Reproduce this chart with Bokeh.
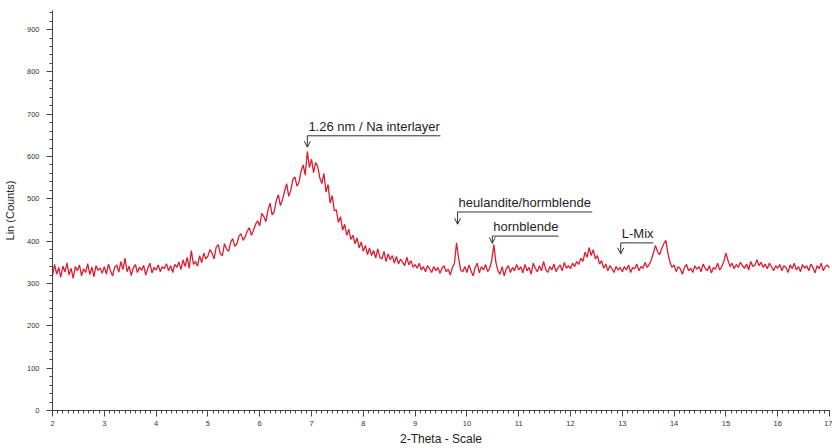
import numpy as np
from bokeh.plotting import figure
from bokeh.models import Range1d, Arrow, OpenHead, FixedTicker, ColumnDataSource
from bokeh.core.properties import value
from bokeh.embed import file_html
from bokeh.resources import INLINE

# ---- data, 2-theta step 0.04 from 2.00 to 17.00 ----
counts = [
    # 2.00 - 2.96
    318, 345, 322, 338, 315, 341, 327, 349, 320, 336, 312, 340, 330, 344, 318, 335, 326, 347, 321, 339, 316, 342, 331, 337, 324,
    # 3.00 - 3.96
    340, 322, 346, 330, 318, 338, 344, 327, 352, 333, 360, 328, 341, 319, 337, 345, 326, 339, 331, 343, 320, 336, 348, 325, 338,
    # 4.00 - 4.96
    332, 344, 328, 340, 335, 347, 330, 342, 326, 345, 338, 351, 333, 356, 340, 362, 336, 378, 345, 352, 341, 366, 349, 372, 358,
    # 5.00 - 5.96
    365, 380, 372, 358, 386, 392, 370, 366, 394, 382, 376, 398, 406, 388, 394, 412, 418, 402, 410, 424, 432, 414, 426, 440, 448,
    # 6.00 - 6.96
    436, 466, 458, 446, 474, 490, 462, 470, 496, 510, 484, 498, 518, 536, 506, 520, 546, 552, 530, 540, 566, 580, 556, 612, 574,
    # 7.00 - 7.96
    594, 562, 586, 576, 550, 536, 560, 516, 534, 490, 508, 472, 474, 444, 458, 426, 440, 414, 428, 404, 414, 394, 408, 384, 398,
    # 8.00 - 8.96
    376, 390, 368, 384, 366, 378, 360, 382, 362, 358, 376, 352, 370, 356, 366, 348, 364, 346, 358, 350, 342, 362, 344, 354, 338,
    # 9.00 - 9.96
    345, 336, 348, 332, 340, 328, 342, 335, 326, 340, 330, 338, 324, 336, 342, 328, 334, 320, 338, 348, 396, 360, 332, 328, 340,
    # 10.00 - 10.96
    326, 344, 330, 318, 338, 348, 325, 340, 332, 345, 328, 336, 355, 392, 350, 330, 322, 340, 318, 335, 342, 326, 338, 330, 345,
    # 11.00 - 11.96
    332, 340, 325, 345, 330, 338, 322, 348, 336, 328, 342, 330, 352, 334, 326, 340, 332, 346, 328, 338, 344, 330, 350, 336, 342,
    # 12.00 - 12.96
    335, 348, 340, 352, 345, 360, 352, 374, 362, 385, 366, 380, 358, 366, 346, 354, 336, 346, 330, 342, 335, 326, 340, 332, 338,
    # 13.00 - 13.96
    328, 340, 332, 344, 326, 338, 335, 346, 330, 340, 336, 350, 338, 345, 356, 372, 390, 375, 368, 382, 394, 402, 372, 350, 338,
    # 14.00 - 14.96
    344, 328, 340, 335, 322, 338, 345, 330, 336, 326, 342, 334, 340, 328, 346, 336, 330, 342, 325, 338, 334, 348, 332, 340, 352,
    # 15.00 - 15.96
    372, 355, 340, 348, 335, 345, 338, 350, 342, 336, 346, 332, 352, 340, 344, 356, 342, 350, 338, 346, 335, 348, 340, 330, 342,
    # 16.00 - 16.96
    336, 345, 330, 342, 338, 326, 344, 335, 348, 332, 340, 328, 345, 336, 342, 330, 346, 338, 325, 342, 335, 348, 330, 340, 344,
    # 17.00
    336,
]
theta_start = 2.0
theta_step = 0.04
two_theta = [round(theta_start + theta_step * i, 2) for i in range(len(counts))]

x_ticks = list(range(2, 18))
y_ticks = list(range(0, 1000, 100))

# annotations: label, arrow x, bar end x, bar y, arrow tip y
ann_labels = ["1.26 nm / Na interlayer", "heulandite/hormblende", "hornblende", "L-Mix"]
ann_arrow_x = [6.92, 9.82, 10.49, 12.97]
ann_bar_end = [9.49, 12.42, 11.77, 13.60]
ann_bar_y = [649, 469, 412, 396]
ann_tip_y = [622, 440, 395, 370]

FONT = "Liberation Sans"

p = figure(width=832, height=448, output_backend="svg", toolbar_location=None,
           x_range=Range1d(2, 17), y_range=Range1d(0, 945),
           min_border_left=52, min_border_right=3, min_border_top=10, min_border_bottom=33)
p.outline_line_color = None
p.xgrid.visible = False
p.ygrid.visible = False
p.background_fill_color = "white"

p.line(two_theta, counts, line_color="#dc1e32", line_width=1.3)

src = ColumnDataSource(dict(x=[x + 0.02 for x in ann_arrow_x],
                            y=[y + 5 for y in ann_bar_y], t=ann_labels))
p.text(x="x", y="y", text="t", source=src, text_font=value(FONT),
       text_font_size="13px", text_color="#1e1e1e", text_baseline="bottom")
p.segment(x0=ann_arrow_x, y0=ann_bar_y, x1=ann_bar_end, y1=ann_bar_y,
          line_color="#333333", line_width=1)
for ax, by, ty in zip(ann_arrow_x, ann_bar_y, ann_tip_y):
    p.add_layout(Arrow(end=OpenHead(size=6, line_color="#333333", line_width=1),
                       x_start=ax, y_start=by, x_end=ax, y_end=ty,
                       line_color="#333333", line_width=1))

for ax_ in (p.xaxis[0], p.yaxis[0]):
    ax_.axis_line_color = "#444444"
    ax_.major_tick_line_color = "#444444"
    ax_.minor_tick_line_color = "#444444"
    ax_.major_tick_in = 0
    ax_.major_tick_out = 6
    ax_.minor_tick_in = 0
    ax_.minor_tick_out = 3
    ax_.major_label_text_font = FONT
    ax_.major_label_text_font_size = "7.5px"
    ax_.major_label_text_color = "#333333"
    ax_.axis_label_text_font = FONT
    ax_.axis_label_text_font_style = "normal"
    ax_.axis_label_text_color = "#222222"

p.xaxis.ticker = FixedTicker(ticks=x_ticks,
                             minor_ticks=[round(2 + 0.1 * i, 1) for i in range(151)])
p.yaxis.ticker = FixedTicker(ticks=y_ticks,
                             minor_ticks=[20 * i for i in range(48)])
p.xaxis.axis_label = "2-Theta - Scale"
p.yaxis.axis_label = "Lin (Counts)"
p.xaxis.axis_label_text_font_size = "12px"
p.yaxis.axis_label_text_font_size = "11px"
p.xaxis.major_label_standoff = 4
p.xaxis.axis_label_standoff = 3
p.yaxis.major_label_standoff = 7
p.yaxis.axis_label_standoff = 8

open("out.html", "w").write(file_html(p, INLINE))
